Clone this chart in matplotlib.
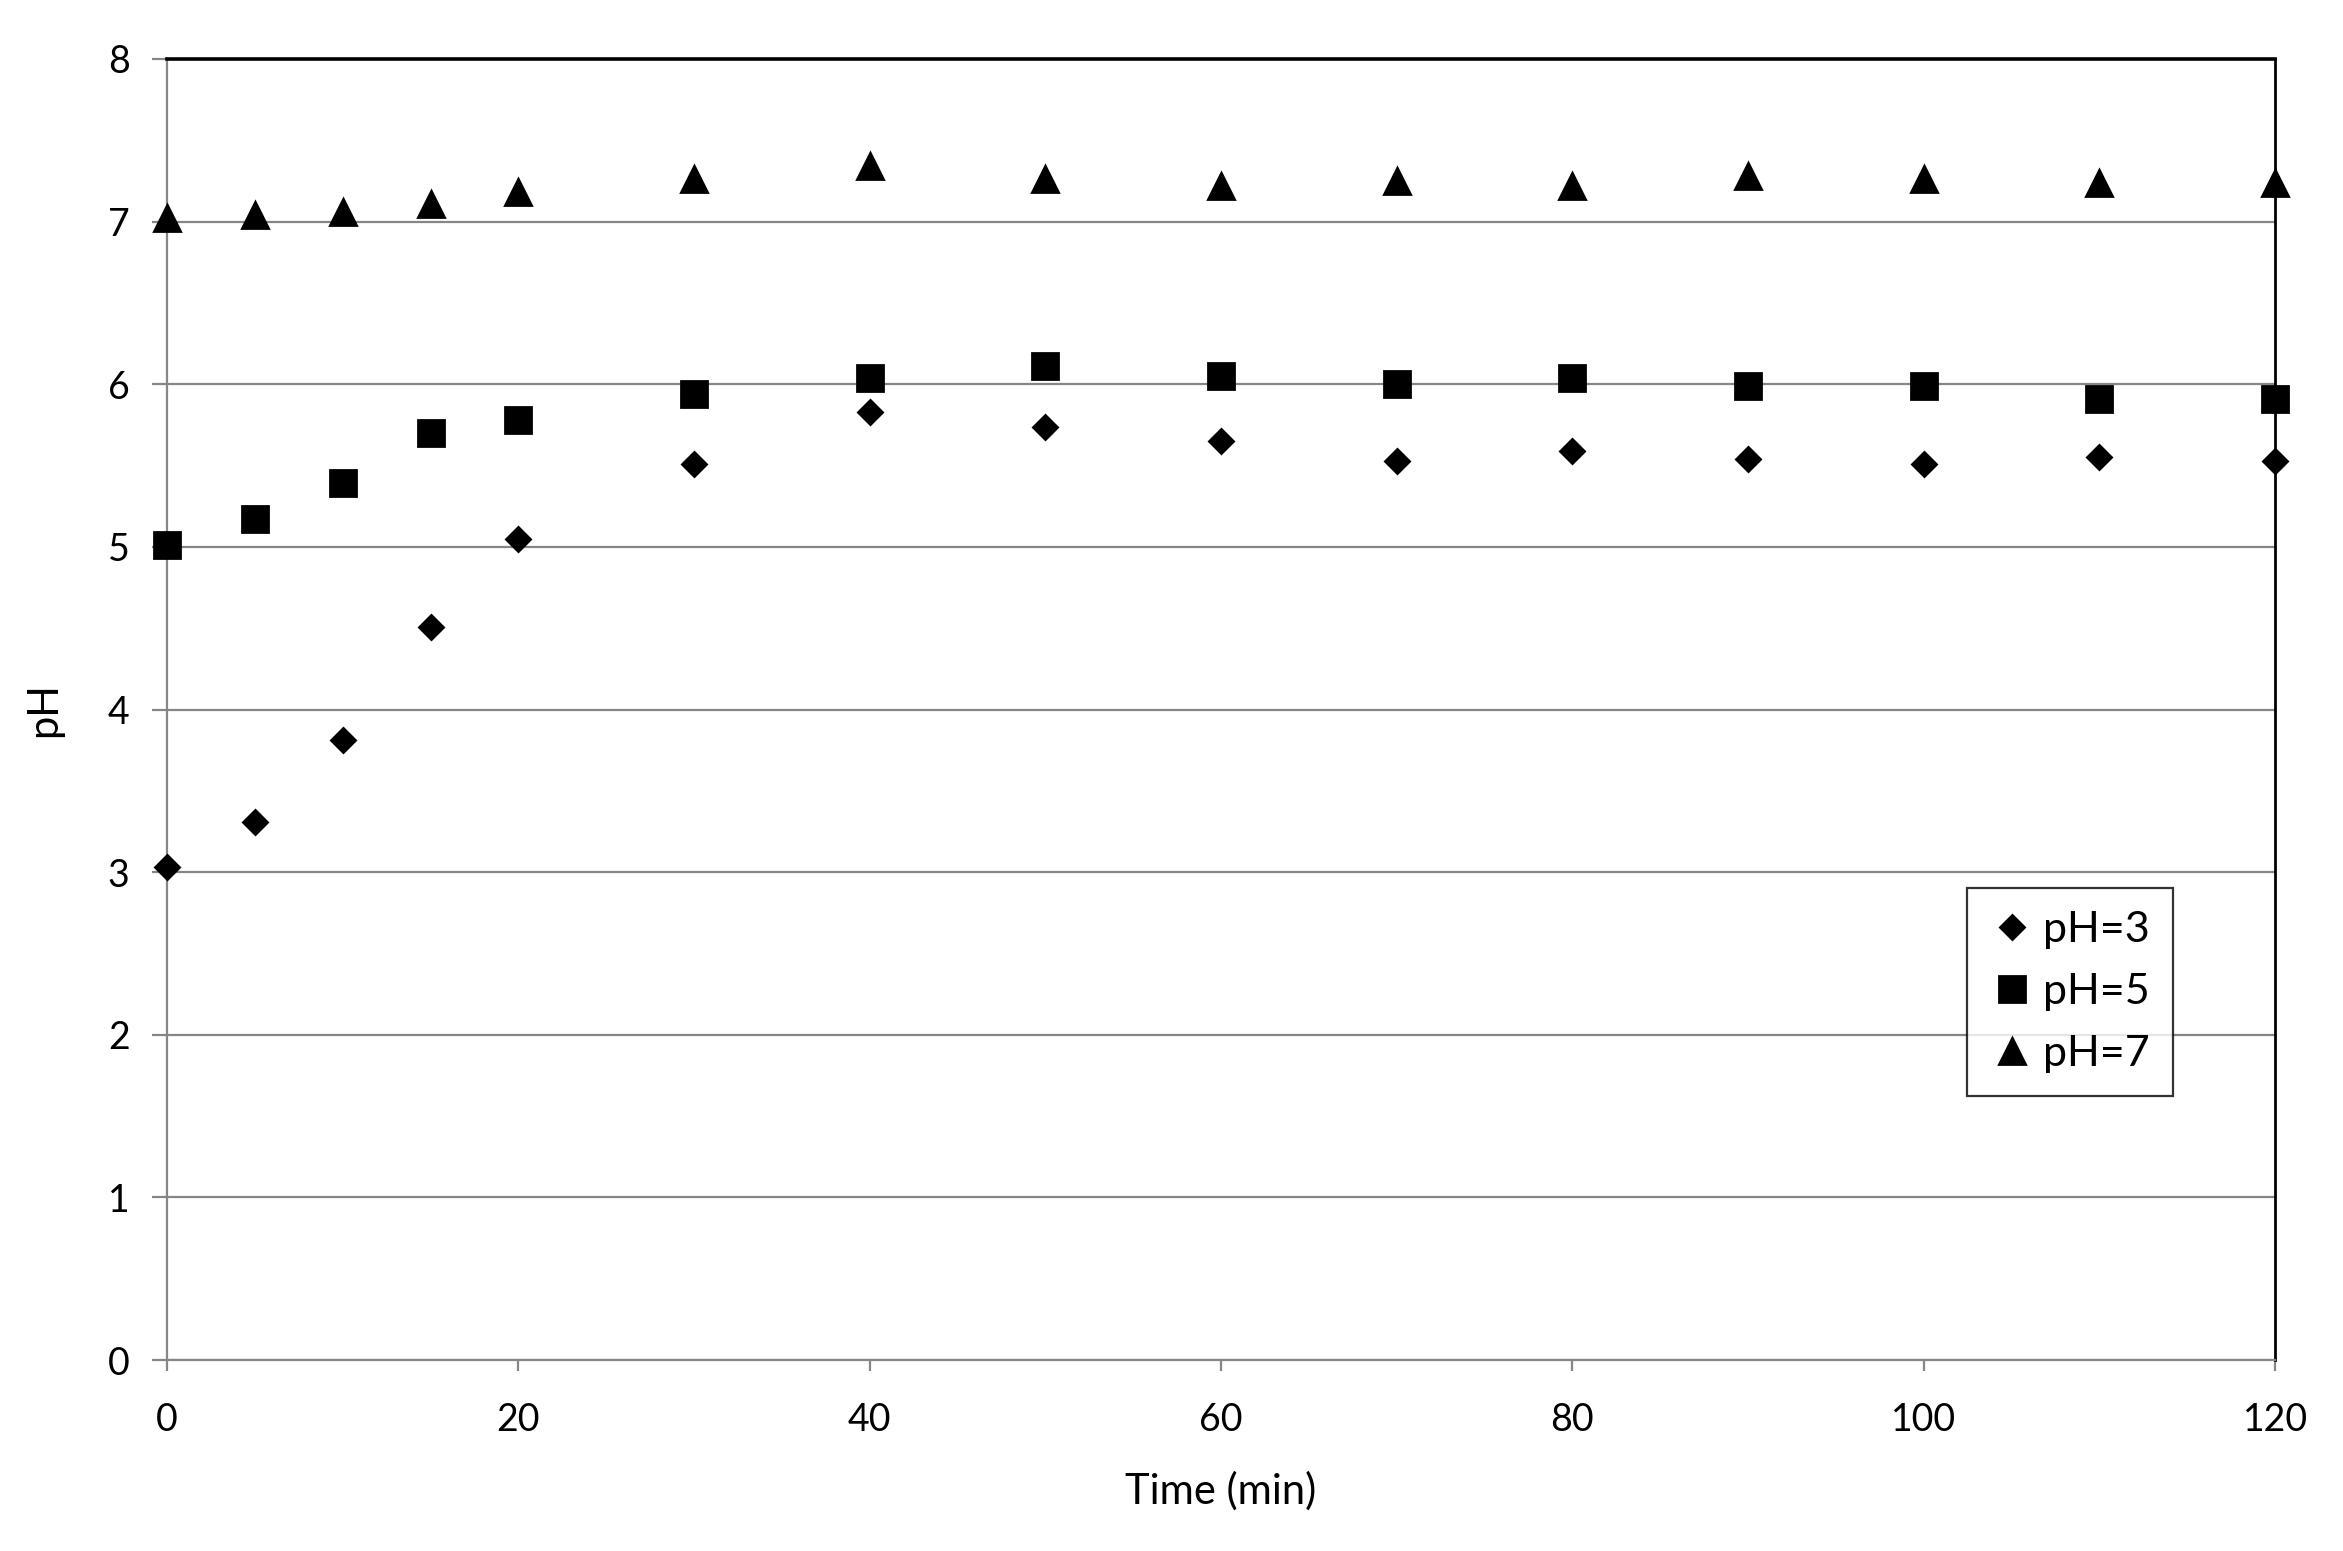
import matplotlib
matplotlib.use("Agg")
import matplotlib.pyplot as plt

plt.rcParams['font.family'] = ['Lato', 'DejaVu Sans']

# Sampling times (min)
time_min = [0, 5, 10, 15, 20, 30, 40, 50, 60, 70, 80, 90, 100, 110, 120]

# Measured pH for each starting pH
ph3 = [3.03, 3.31, 3.81, 4.51, 5.05, 5.51, 5.83, 5.74, 5.65, 5.53, 5.59, 5.54, 5.51, 5.55, 5.53]
ph5 = [5.01, 5.17, 5.39, 5.70, 5.78, 5.94, 6.04, 6.11, 6.05, 6.00, 6.04, 5.99, 5.99, 5.91, 5.91]
ph7 = [7.02, 7.04, 7.06, 7.11, 7.18, 7.26, 7.34, 7.26, 7.22, 7.25, 7.22, 7.28, 7.26, 7.24, 7.24]

series_labels = ['pH=3', 'pH=5', 'pH=7']
x_ticks = [0, 20, 40, 60, 80, 100, 120]
y_ticks = [0, 1, 2, 3, 4, 5, 6, 7, 8]

grey = '#868686'

fig = plt.figure(figsize=(11.715, 7.755), dpi=200)
ax = fig.add_axes([0.0713, 0.1231, 0.8997, 0.8389])

ax.plot(time_min, ph3, linestyle='none', marker='D', ms=6.2, color='black',
        label=series_labels[0], clip_on=False, zorder=3)
ax.plot(time_min, ph5, linestyle='none', marker='s', ms=9.2, color='black',
        label=series_labels[1], clip_on=False, zorder=3)
ax.plot(time_min, ph7, linestyle='none', marker='^', ms=9.5, color='black',
        label=series_labels[2], clip_on=False, zorder=3)

ax.set_xlim(0, 120)
ax.set_ylim(0, 8)
ax.set_xticks(x_ticks)
ax.set_yticks(y_ticks)

# horizontal gridlines only
ax.yaxis.grid(True, color=grey, linewidth=0.8)
ax.set_axisbelow(True)

for side in ['left', 'bottom']:
    ax.spines[side].set_color(grey)
    ax.spines[side].set_linewidth(0.8)
ax.spines['top'].set_color('black')
ax.spines['top'].set_linewidth(1.3)
ax.spines['right'].set_color('black')
ax.spines['right'].set_linewidth(1.0)

ax.tick_params(axis='y', direction='out', length=5.5, width=0.8, color=grey,
               labelsize=13.5, pad=8)
ax.tick_params(axis='x', direction='out', length=4, width=0.8, color=grey,
               labelsize=13.5, pad=11)

ax.set_xlabel('Time (min)', fontsize=15, labelpad=12)
ax.set_ylabel('pH', fontsize=15, labelpad=16)

leg = ax.legend(loc='upper left', bbox_to_anchor=(0.854, 0.363), fontsize=15.5,
                frameon=True, fancybox=False, handletextpad=0.2,
                handlelength=1.0, borderpad=0.55, labelspacing=0.55,
                borderaxespad=0)
leg.get_frame().set_edgecolor('black')
leg.get_frame().set_linewidth(0.8)

fig.savefig('out.png', dpi=200)
